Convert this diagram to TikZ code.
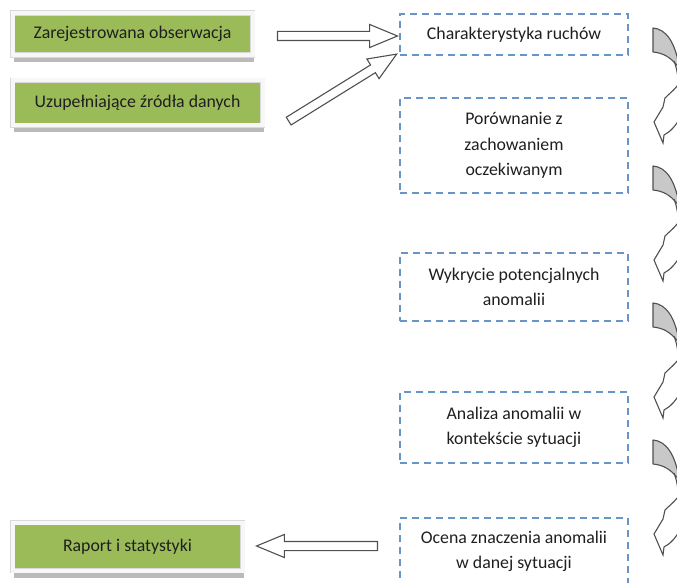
\documentclass[tikz,border=0pt]{standalone}
\usepackage{fontspec}
\setmainfont{Carlito}
\usetikzlibrary{shapes.arrows,calc,shadows}
\definecolor{gfill}{HTML}{9BBB59}
\definecolor{dblue}{HTML}{4F81BD}
\definecolor{agray}{HTML}{C8C8C8}
\definecolor{aline}{HTML}{505050}
\newcommand\blockarrow[3]{%
  \path let \p1=($(#3)-(#2)$), \n1={atan2(\y1,\x1)}, \n2={veclen(\x1,\y1)} in
    node[barrow, rotate=\n1, minimum height=\n2] (#1) at ($(#2)!0.5!(#3)$) {};}
\tikzset{
  txt/.style={font=\fontsize{17.8}{25.5}\selectfont, text=black!88},
  gbox/.style={txt, draw=gray!30, line width=0.6pt, double=gray!6, double distance=4pt,
    fill=gfill, inner sep=0pt,
    drop shadow={shadow xshift=1pt, shadow yshift=-7pt, fill=gray!60, opacity=0.9}},
  dbox/.style={txt, draw=dblue!85, line width=1.4pt, dash pattern=on 7pt off 5pt,
    minimum width=228pt, align=center, inner sep=0pt},
  barrow/.style={single arrow, draw=aline, fill=white, line width=1.1pt, inner sep=0pt,
    text height=4pt, text depth=4pt, minimum width=22pt, single arrow head extend=7pt,
    single arrow tip angle=45, single arrow head indent=0pt, line join=miter},
  curvarrow/.pic={
    \filldraw[fill=white, draw=aline, line width=1.1pt, line join=miter]
      (28,52) .. controls (24,60) and (17,65) .. (12,70) -- (10,79) -- (1,94)
      -- (10,115) -- (11,107) .. controls (17,104) and (23,98) .. (28,88)
      -- (32,60) -- cycle;
    \filldraw[fill=agray, draw=aline, line width=1.1pt, line join=round]
      (0,0) .. controls (13,1) and (22,14) .. (26,38) -- (26,40)
      .. controls (18,29) and (10,25) .. (0,24) -- cycle;
    \draw[aline, line width=1.1pt] (21,33) .. controls (23.5,40) .. (26,56);
  }
}
\begin{document}
\begin{tikzpicture}[x=1pt,y=-1pt]
\useasboundingbox (0,0) rectangle (677,583);
\clip (0,0) rectangle (677,583);
% green boxes
\node[gbox, minimum width=240pt, minimum height=42pt] (g1) at (132.5,34) {Zarejestrowana obserwacja};
\node[gbox, minimum width=250pt, minimum height=45pt] (g2) at (137.5,103) {Uzupełniające źródła danych};
\node[gbox, minimum width=230pt, minimum height=48pt] (g3) at (127.5,546.5) {Raport i statystyki};
% dashed boxes
\node[dbox, minimum height=41pt] (d1) at (514,34.5) {Charakterystyka ruchów};
\node[dbox, minimum height=95pt] (d2) at (514,145.5) {Porównanie z\\zachowaniem\\oczekiwanym};
\node[dbox, minimum height=68pt] (d3) at (514,287) {Wykrycie potencjalnych\\anomalii};
\node[dbox, minimum height=71pt] (d4) at (514,427.5) {Analiza anomalii w\\kontekście sytuacji};
\node[dbox, minimum height=67pt] (d5) at (514,551.5) {Ocena znaczenia anomalii\\w danej sytuacji};
% block arrows
\coordinate (s1) at (272,36);  \coordinate (t1) at (392,36);
\coordinate (s2) at (284,124); \coordinate (t2) at (392,57);
\coordinate (s3) at (383,546); \coordinate (t3) at (262,546);
\blockarrow{a1}{s1}{t1}
\blockarrow{a2}{s2}{t2}
\blockarrow{a3}{s3}{t3}
% curved arrows
\pic at (653,28) {curvarrow};
\pic at (653,166) {curvarrow};
\pic at (653,303) {curvarrow};
\pic at (653,440) {curvarrow};
\end{tikzpicture}
\end{document}
